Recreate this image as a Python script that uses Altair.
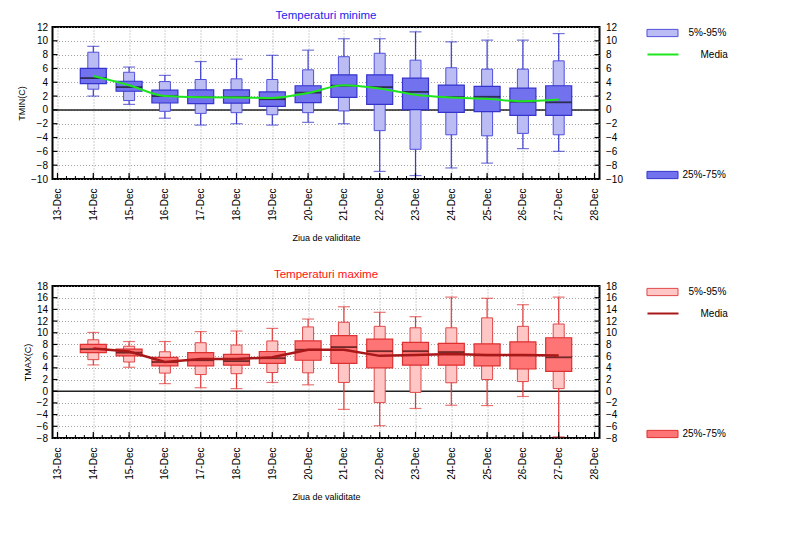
import altair as alt
import pandas as pd
import numpy as np

# ---------------- data ----------------
DAYS = [14, 15, 16, 17, 18, 19, 20, 21, 22, 23, 24, 25, 26, 27]
TICK_LABELS = ["13-Dec", "14-Dec", "15-Dec", "16-Dec", "17-Dec", "18-Dec", "19-Dec", "20-Dec",
               "21-Dec", "22-Dec", "23-Dec", "24-Dec", "25-Dec", "26-Dec", "27-Dec", "28-Dec"]
X_TICKS = list(range(13, 29))

TMIN_WLO = [2.0, 0.8, -1.2, -2.2, -2.0, -2.2, -1.8, -2.0, -8.9, -9.5, -8.4, -7.7, -5.6, -6.0]
TMIN_P5 = [3.0, 1.35, -0.2, -0.5, -0.4, -0.7, -0.4, -0.15, -3.0, -5.7, -3.6, -3.75, -3.4, -3.6]
TMIN_Q25 = [3.8, 2.7, 1.0, 0.9, 0.97, 0.5, 1.06, 1.8, 0.8, 0.05, -0.35, -0.25, -0.8, -0.8]
TMIN_MED = [4.6, 3.3, 2.0, 1.85, 1.85, 1.55, 2.5, 3.5, 3.3, 2.6, 1.85, 1.9, 1.2, 1.1]
TMIN_Q75 = [6.0, 4.15, 2.85, 2.9, 2.9, 2.6, 3.5, 5.07, 5.07, 4.6, 3.6, 3.4, 3.15, 3.5]
TMIN_P95 = [8.35, 5.45, 4.1, 4.4, 4.5, 4.4, 5.8, 7.7, 8.2, 7.2, 6.1, 5.9, 5.9, 7.1]
TMIN_WHI = [9.2, 6.2, 5.0, 7.0, 7.35, 7.9, 8.65, 10.3, 10.3, 11.3, 9.85, 10.1, 10.1, 11.05]
TMIN_MEAN = [4.9, 3.57, 2.0, 1.84, 1.8, 1.74, 2.46, 3.57, 3.1, 2.2, 1.8, 1.6, 1.25, 1.5]

TMAX_WLO = [4.5, 4.1, 1.3, 0.6, 0.45, 1.5, 1.1, -3.1, -5.9, -2.95, -2.4, -2.45, -0.9, -7.8]
TMAX_P5 = [5.4, 5.0, 3.1, 2.85, 3.0, 3.2, 3.15, 1.5, -1.95, -0.2, 1.45, 2.0, 1.65, 0.45]
TMAX_Q25 = [6.6, 6.05, 4.35, 4.35, 4.45, 4.75, 5.3, 4.75, 4.0, 4.45, 4.45, 4.35, 3.8, 3.4]
TMAX_MED = [7.2, 6.6, 5.0, 5.3, 5.15, 5.65, 7.1, 7.55, 6.85, 6.85, 6.7, 6.15, 6.15, 5.8]
TMAX_Q75 = [8.0, 7.2, 5.8, 6.6, 6.3, 6.8, 8.6, 9.5, 8.9, 8.35, 8.2, 8.1, 8.45, 9.15]
TMAX_P95 = [8.8, 7.7, 6.75, 8.3, 7.9, 8.6, 11.0, 11.8, 11.1, 10.85, 10.85, 12.55, 11.1, 11.5]
TMAX_WHI = [10.05, 8.5, 8.5, 10.2, 10.3, 10.75, 12.35, 14.45, 13.5, 12.75, 16.1, 15.9, 14.8, 16.1]
TMAX_MEAN = [7.3, 6.8, 5.0, 5.5, 5.5, 5.8, 7.1, 7.1, 6.05, 6.2, 6.35, 6.2, 6.2, 6.1]

TMIN_YTICKS = [-10, -8, -6, -4, -2, 0, 2, 4, 6, 8, 10, 12]
TMAX_YTICKS = [-8, -6, -4, -2, 0, 2, 4, 6, 8, 10, 12, 14, 16, 18]

LEG_OUTER = "5%-95%"
LEG_MEAN = "Media"
LEG_INNER = "25%-75%"

FONT = "Liberation Sans"
W, H = 547, 152


def table(wlo, p5, q25, med, q75, p95, whi, mean):
    return pd.DataFrame({
        "day": DAYS, "wlo": wlo, "p5": p5, "q25": q25, "med": med,
        "q75": q75, "p95": p95, "whi": whi, "mean": mean,
        "k_outer": LEG_OUTER, "k_inner": LEG_INNER, "k_mean": LEG_MEAN,
    })


label_expr = "[" + ",".join("'%s'" % t for t in TICK_LABELS) + "][datum.value - 13]"
# wide legend swatches drawn from a small symbol size so the legend rows stay short
SWATCH = "M-3,-0.7H3V0.7H-3Z"
LINE_SWATCH = "M-3,0H3"
SYM_SIZE = 107
LEG_X = 604


def legend(y, offset, stroke_color=None, sym=SWATCH, sw=1):
    kw = dict(orient="none", legendX=LEG_X, legendY=y, title=None, symbolType=sym,
              symbolSize=SYM_SIZE, symbolStrokeWidth=sw, labelFontSize=10, labelFont=FONT,
              labelOffset=offset, padding=0)
    if stroke_color:
        kw["symbolStrokeColor"] = stroke_color
    return alt.Legend(**kw)


def panel(df, title, title_color, ytitle, yticks, c):
    xscale = alt.Scale(domain=[X_TICKS[0], X_TICKS[-1]], nice=False, zero=False)
    yscale = alt.Scale(domain=[yticks[0], yticks[-1]], nice=False, zero=False)
    xaxis = alt.Axis(values=X_TICKS, labelExpr=label_expr, labelAngle=270, labelFontSize=10,
                     labelPadding=9, grid=True, gridDash=[1, 2], gridColor="#8a8a8a",
                     gridWidth=0.8, ticks=False, domain=False, title="Ziua de validitate",
                     titleFontSize=9, titleFontWeight="normal", titlePadding=13)
    yaxis = alt.Axis(values=yticks, labelFontSize=10, labelPadding=5, grid=True,
                     gridDash=[1, 2], gridColor="#8a8a8a", gridWidth=0.8, ticks=False,
                     domain=False, title=ytitle, titleFontSize=9, titleFontWeight="normal",
                     titlePadding=4)

    def X(f="day"):
        return alt.X(f + ":Q", scale=xscale, axis=xaxis)

    def Y(f):
        return alt.Y(f + ":Q", scale=yscale, axis=yaxis)

    base = alt.Chart(df)
    minor = pd.DataFrame({"t": np.arange(X_TICKS[0], X_TICKS[-1] + 0.01, 0.25)})
    major = pd.DataFrame({"t": X_TICKS})
    yt = pd.DataFrame({"v": yticks})
    zero_df = pd.DataFrame({"v": [0]})

    zero = alt.Chart(zero_df).mark_rule(color="#222222", strokeWidth=1.5).encode(y=Y("v"))
    whisk = base.mark_rule(color=c["whisker"], strokeWidth=1.2).encode(
        x=X(), y=Y("wlo"), y2="whi:Q")
    outer = base.mark_bar(size=11, stroke=c["outer_stroke"], strokeWidth=1).encode(
        x=X(), y=Y("p5"), y2="p95:Q",
        fill=alt.Fill("k_outer:N", scale=alt.Scale(domain=[LEG_OUTER], range=[c["outer"]]),
                      legend=legend(0, 20, c["outer_stroke"])))
    inner = base.mark_bar(size=26, stroke=c["inner_stroke"], strokeWidth=1.2).encode(
        x=X(), y=Y("q25"), y2="q75:Q",
        fill=alt.Fill("k_inner:N", scale=alt.Scale(domain=[LEG_INNER], range=[c["inner"]]),
                      legend=legend(142, 14, c["inner_stroke"])))
    median = base.mark_tick(orient="horizontal", size=26, thickness=1.8, color=c["median"]).encode(
        x=X(), y=Y("med"))
    cap_hi = base.mark_tick(orient="horizontal", size=12, thickness=1.2, color=c["whisker"]).encode(
        x=X(), y=Y("whi"))
    cap_lo = base.mark_tick(orient="horizontal", size=12, thickness=1.2, color=c["whisker"]).encode(
        x=X(), y=Y("wlo"))
    mean = base.mark_line(strokeWidth=c["mean_width"], interpolate=c["interp"]).encode(
        x=X(), y=Y("mean"),
        stroke=alt.Stroke("k_mean:N", scale=alt.Scale(domain=[LEG_MEAN], range=[c["mean"]]),
                          legend=legend(21, 31, sym=LINE_SWATCH, sw=2)))
    xt_minor = alt.Chart(minor).mark_rule(color="black", strokeWidth=1).encode(
        x=X("t"), y=alt.value(H), y2=alt.value(H - 3))
    xt_major = alt.Chart(major).mark_rule(color="black", strokeWidth=1.2).encode(
        x=X("t"), y=alt.value(H), y2=alt.value(H - 6))
    yt_left = alt.Chart(yt).mark_rule(color="black", strokeWidth=1.2).encode(
        y=Y("v"), x=alt.value(0), x2=alt.value(5))

    main = alt.layer(zero, whisk, outer, inner, median, mean, cap_hi, cap_lo,
                     xt_minor, xt_major, yt_left).resolve_scale(fill="independent")

    right = alt.Chart(yt).mark_rule(color="black", strokeWidth=1.2).encode(
        y=alt.Y("v:Q", scale=yscale,
                axis=alt.Axis(orient="right", values=yticks, labelFontSize=10, labelPadding=6,
                              grid=False, ticks=False, domain=False, title="")),
        x=alt.value(W - 5), x2=alt.value(W))

    return alt.layer(main, right).resolve_axis(y="independent").properties(
        width=W, height=H,
        title=alt.TitleParams(title, color=title_color, fontSize=11.5, fontWeight="normal",
                              font=FONT, anchor="middle", offset=1, frame="group"))


tmin = table(TMIN_WLO, TMIN_P5, TMIN_Q25, TMIN_MED, TMIN_Q75, TMIN_P95, TMIN_WHI, TMIN_MEAN)
tmax = table(TMAX_WLO, TMAX_P5, TMAX_Q25, TMAX_MED, TMAX_Q75, TMAX_P95, TMAX_WHI, TMAX_MEAN)

blue = dict(whisker="#3a3acc", outer="#bcbcf4", outer_stroke="#5050dd", inner="#7272ee",
            inner_stroke="#3434cc", median="#111111", mean="#1ee61e", mean_width=2,
            interp="monotone")
red = dict(whisker="#e03a3a", outer="#ffc6c6", outer_stroke="#e04848", inner="#ff7474",
           inner_stroke="#dd3030", median="#3a0808", mean="#a81818", mean_width=2.5,
           interp="linear")

top = panel(tmin, "Temperaturi minime", "#2222ee", "TMIN(C)", TMIN_YTICKS, blue)
bottom = panel(tmax, "Temperaturi maxime", "#ff1010", "TMAX(C)", TMAX_YTICKS, red)

chart = alt.vconcat(top, bottom, spacing=23).resolve_scale(
    fill="independent", stroke="independent"
).properties(
    padding={"left": 8.5, "top": 0, "right": 5, "bottom": 5},
    background="white",
).configure_view(stroke="black", strokeWidth=2).configure_axis(
    labelFont=FONT, titleFont=FONT, labelColor="black", titleColor="black"
).configure_legend(labelColor="black")

chart.save("out.html", embed_options={"renderer": "svg", "actions": False})
